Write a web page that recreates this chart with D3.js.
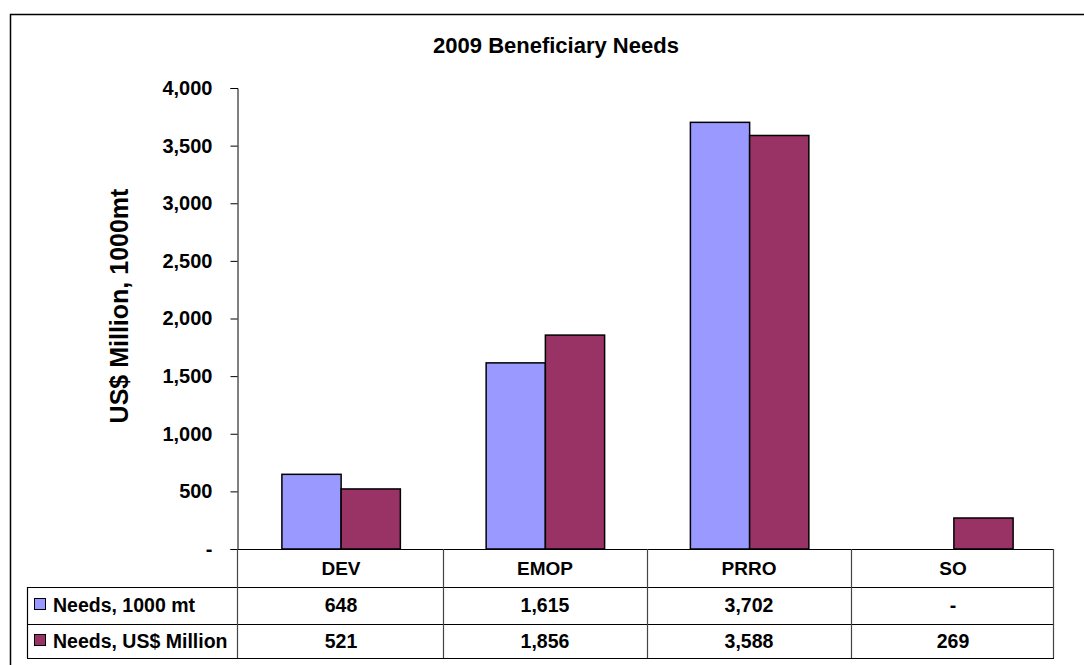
<!DOCTYPE html>
<html>
<head>
<meta charset="utf-8">
<script src="https://cdn.jsdelivr.net/npm/d3@7"></script>
<style>
  body { margin: 0; background: #fff; }
  text { font-family: "Liberation Sans", Arial, sans-serif; font-weight: bold; fill: #000; }
</style>
</head>
<body>
<div id="chart"></div>
<script>
const categories = ['DEV', 'EMOP', 'PRRO', 'SO'];
const seriesNames = ['Needs, 1000 mt', 'Needs, US$ Million'];
const needsTonnes = [648, 1615, 3702, null];
const needsUsd = [521, 1856, 3588, 269];
const yTicks = [0, 500, 1000, 1500, 2000, 2500, 3000, 3500, 4000];
const colors = ['#9999FF', '#993366'];

const width = 1084;
const height = 665;
const plotLeft = 238, plotRight = 1054;
const plotTop = 88, plotBottom = 549;
const rowBottoms = [587, 624, 658];
const tableLeft = 27;

const svg = d3.select('#chart')
  .append('svg')
  .attr('width', width)
  .attr('height', height);

// outer chart border (cropped on right and bottom)
svg.append('path')
  .attr('d', `M10.5,${height} V14.5 H${width}`)
  .attr('fill', 'none')
  .attr('stroke', '#000')
  .attr('stroke-width', 1.5);

// title
svg.append('text')
  .attr('x', 556)
  .attr('y', 53)
  .attr('text-anchor', 'middle')
  .style('font-size', '22px')
  .text('2009 Beneficiary Needs');

const x0 = d3.scaleBand()
  .domain(categories)
  .range([plotLeft + 1, plotRight + 2])
  .paddingInner(0.42)
  .paddingOuter(0.21);

const xCol = d3.scaleBand()
  .domain(categories)
  .range([plotLeft, plotRight]);

const x1 = d3.scaleBand()
  .domain([0, 1])
  .range([0, x0.bandwidth()]);

const y = d3.scaleLinear()
  .domain([0, 4000])
  .range([plotBottom, plotTop]);

// y axis
const yAxis = d3.axisLeft(y)
  .tickValues(yTicks)
  .tickSize(7)
  .tickPadding(18)
  .tickFormat(d => d === 0 ? '-' : d3.format(',')(d));

const gy = svg.append('g')
  .attr('transform', `translate(${plotLeft - 0.5},0)`)
  .call(yAxis);
gy.select('.domain').attr('stroke', '#000');
gy.selectAll('.tick line').attr('stroke', '#000');
gy.selectAll('.tick text')
  .style('font-size', '20px')
  .style('font-family', '"Liberation Sans", Arial, sans-serif')
  .attr('fill', '#000');

svg.append('text')
  .attr('transform', `translate(128,306) rotate(-90)`)
  .attr('text-anchor', 'middle')
  .style('font-size', '25px')
  .text('US$ Million, 1000mt');

// bars
const seriesData = [needsTonnes, needsUsd];
const groups = svg.append('g')
  .selectAll('g')
  .data(categories)
  .enter().append('g')
  .attr('transform', d => `translate(${x0(d)},0)`);

groups.selectAll('rect')
  .data((d, i) => seriesData.map((s, k) => ({ k: k, v: s[i] })).filter(e => e.v != null))
  .enter().append('rect')
  .attr('x', d => x1(d.k))
  .attr('y', d => y(d.v))
  .attr('width', x1.bandwidth())
  .attr('height', d => plotBottom - y(d.v))
  .attr('fill', d => colors[d.k])
  .attr('stroke', '#000')
  .attr('stroke-width', 1.5);

// x baseline
svg.append('line')
  .attr('x1', plotLeft).attr('x2', plotRight)
  .attr('y1', plotBottom + 0.5).attr('y2', plotBottom + 0.5)
  .attr('stroke', '#000');

// data table grid
const grid = svg.append('g').attr('stroke-width', 1.2);
rowBottoms.forEach(yy => {
  grid.append('line')
    .attr('x1', tableLeft).attr('x2', plotRight)
    .attr('y1', yy + 0.5).attr('y2', yy + 0.5)
    .attr('stroke', '#000');
});
grid.append('line')
  .attr('x1', tableLeft + 0.5).attr('x2', tableLeft + 0.5)
  .attr('y1', rowBottoms[0]).attr('y2', rowBottoms[2])
  .attr('stroke', '#000');
categories.concat(['end']).forEach((c, i) => {
  const xx = i < categories.length ? Math.round(xCol(c)) + (i > 0 ? 2 : 0) : plotRight;
  grid.append('line')
    .attr('x1', xx - 0.5).attr('x2', xx - 0.5)
    .attr('y1', plotBottom).attr('y2', rowBottoms[2])
    .attr('stroke', '#444');
});

// header row
svg.append('g')
  .selectAll('text')
  .data(categories)
  .enter().append('text')
  .attr('x', d => xCol(d) + xCol.bandwidth() / 2 + 1)
  .attr('y', 575)
  .attr('text-anchor', 'middle')
  .style('font-size', '19px')
  .text(d => d);

// value rows
const rowMid = [612, 648];
seriesData.forEach((s, k) => {
  const row = svg.append('g');
  row.append('rect')
    .attr('x', 34.5).attr('y', rowMid[k] - 13.5)
    .attr('width', 11).attr('height', 11)
    .attr('fill', colors[k])
    .attr('stroke', '#000')
    .attr('stroke-width', 1);
  row.append('text')
    .attr('x', 53)
    .attr('y', rowMid[k])
    .style('font-size', '19.5px')
    .text(seriesNames[k]);
  row.selectAll('text.val')
    .data(categories)
    .enter().append('text')
    .attr('class', 'val')
    .attr('x', d => xCol(d) + xCol.bandwidth() / 2 + 1)
    .attr('y', rowMid[k])
    .attr('text-anchor', 'middle')
    .style('font-size', '19.5px')
    .text((d, i) => s[i] == null ? '-' : d3.format(',')(s[i]));
});
</script>
</body>
</html>
